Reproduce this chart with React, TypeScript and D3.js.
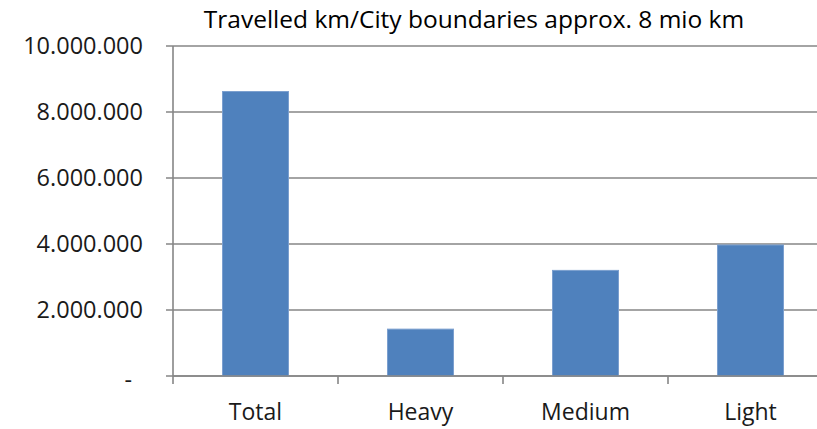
import React from "react";
import * as d3 from "d3";

const categories = ["Total", "Heavy", "Medium", "Light"];
const values = [8620000, 1420000, 3200000, 3970000];
const yTicks = [0, 2000000, 4000000, 6000000, 8000000, 10000000];
const title = "Travelled km/City boundaries approx. 8 mio km";

const W = 817;
const H = 429;
const left = 173;
const right = 833;
const top = 46;
const bottom = 376;
const font = "'Open Sans', sans-serif";

const fmt = (v: number) =>
  v === 0 ? "-" : d3.format(",")(v).replace(/,/g, ".");

export default function App() {
  const x = d3.scaleBand<string>().domain(categories).range([left, right]).paddingInner(0.6).paddingOuter(0.3);
  const xb = d3.scaleBand<string>().domain(categories).range([left, right]);
  const y = d3.scaleLinear().domain([0, 10000000]).range([bottom, top]);
  const grid = "#868686";
  return (
    <svg width={W} height={H} style={{ position: "absolute", left: 0, top: 0, background: "#fff" }}>
      <rect x={0} y={0} width={W} height={H} fill="#fff" />
      <text x={474} y={28} textAnchor="middle" fontFamily={font} fontSize={24.5} fill="#000">
        {title}
      </text>
      {yTicks.map((t) => (
        <g key={t}>
          <line x1={166} x2={W} y1={y(t)} y2={y(t)} stroke={grid} strokeWidth={1.6} />
          <text x={t === 0 ? 132 : 143} y={y(t)} dy={t === 0 ? "0.5em" : "0.36em"} textAnchor="end" fontFamily={font} fontSize={23.5} fill="#1a1a1a">
            {fmt(t)}
          </text>
        </g>
      ))}
      {categories.map((c, i) => (
        <rect
          key={c}
          x={x(c)}
          y={y(values[i])}
          width={x.bandwidth()}
          height={bottom - y(values[i])}
          fill="#4F81BD"
          stroke="#7B9FCF"
          strokeWidth={1}
        />
      ))}
      <line x1={left} x2={left} y1={top} y2={bottom + 8} stroke={grid} strokeWidth={1.6} />
      <line x1={left} x2={W} y1={bottom} y2={bottom} stroke={grid} strokeWidth={1.6} />
      {categories.map((c) => (
        <line key={c} x1={(xb(c) as number) + xb.bandwidth()} x2={(xb(c) as number) + xb.bandwidth()} y1={bottom} y2={bottom + 8} stroke={grid} strokeWidth={1.6} />
      ))}
      {categories.map((c) => (
        <text key={c} x={(xb(c) as number) + xb.bandwidth() / 2} y={420} textAnchor="middle" fontFamily={font} fontSize={23} fill="#1a1a1a">
          {c}
        </text>
      ))}
    </svg>
  );
}
